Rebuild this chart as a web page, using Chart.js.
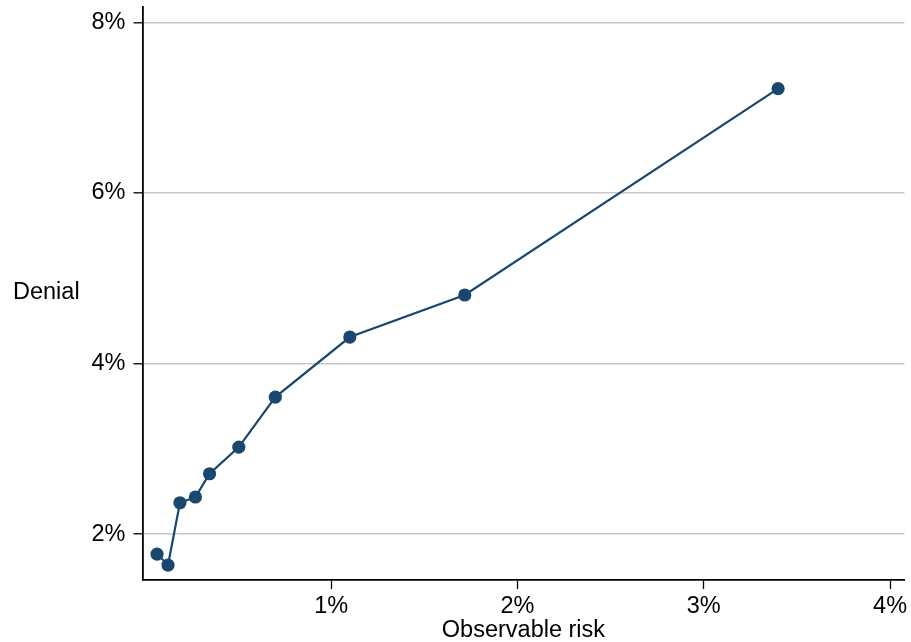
<!DOCTYPE html>
<html>
<head>
<meta charset="utf-8">
<script src="https://cdn.jsdelivr.net/npm/chart.js@4/dist/chart.umd.min.js"></script>
<style>
  html, body { margin: 0; padding: 0; background: #ffffff; }
  #wrap { width: 911px; height: 642px; }
</style>
</head>
<body>
<div id="wrap"><canvas id="c" width="911" height="642"></canvas></div>
<script>
// Observable risk (%) and denial rate (%) by bin
const observableRisk = [0.065, 0.124, 0.188, 0.271, 0.347, 0.504, 0.700, 1.100, 1.717, 3.399];
const denialRate     = [1.765, 1.636, 2.367, 2.434, 2.707, 3.020, 3.606, 4.310, 4.803, 7.222];
const xTicks = [1, 2, 3, 4];
const yTicks = [2, 4, 6, 8];
const xTitle = 'Observable risk';
const yTitle = 'Denial';

const NAVY = '#1a476f';
const FONT = "'Liberation Sans', Arial, Helvetica, sans-serif";
const FONT_SIZE = 23.5;

const points = observableRisk.map((x, i) => ({ x: x, y: denialRate[i] }));

// horizontal y-axis title, drawn left of the tick labels
const sideTitle = {
  id: 'sideTitle',
  afterDraw(chart) {
    const ctx = chart.ctx;
    const a = chart.chartArea;
    ctx.save();
    ctx.font = FONT_SIZE + 'px ' + FONT;
    ctx.fillStyle = '#000';
    ctx.textAlign = 'left';
    ctx.textBaseline = 'middle';
    ctx.fillText(yTitle, 13, (a.top + a.bottom) / 2 - 1);
    ctx.restore();
  }
};

new Chart(document.getElementById('c'), {
  type: 'scatter',
  data: {
    datasets: [{
      data: points,
      showLine: true,
      borderColor: NAVY,
      backgroundColor: NAVY,
      borderWidth: 2.2,
      pointRadius: 6.6,
      pointHoverRadius: 6.6,
      pointBorderWidth: 0,
      tension: 0
    }]
  },
  options: {
    responsive: false,
    animation: false,
    events: [],
    layout: { padding: { top: 7, right: 4, left: 0, bottom: 0 } },
    plugins: { legend: { display: false }, tooltip: { enabled: false } },
    scales: {
      x: {
        type: 'linear',
        min: -0.013,
        max: 4.077,
        afterBuildTicks(s) { s.ticks = xTicks.map(v => ({ value: v })); },
        afterFit(s) { s.height = 62; s.paddingLeft = 0; s.paddingRight = 0; },
        ticks: {
          callback: v => v + '%',
          color: '#000',
          font: { family: FONT, size: FONT_SIZE },
          padding: 3,
          maxRotation: 0
        },
        grid: { drawOnChartArea: false, tickColor: '#000', tickLength: 9, tickWidth: 1.3 },
        border: { color: '#000', width: 1.8 },
        title: {
          display: true,
          text: xTitle,
          color: '#000',
          font: { family: FONT, size: FONT_SIZE },
          padding: { top: 0, bottom: -3 }
        }
      },
      y: {
        type: 'linear',
        min: 1.461,
        max: 8.18,
        afterBuildTicks(s) { s.ticks = yTicks.map(v => ({ value: v })); },
        afterFit(s) { s.width = 142.5; s.paddingTop = 0; s.paddingBottom = 0; },
        ticks: {
          callback: v => v + '%',
          color: '#000',
          font: { family: FONT, size: FONT_SIZE },
          padding: 8
        },
        grid: { color: '#c8c8c8', lineWidth: 1.6, tickColor: '#000', tickLength: 9, tickWidth: 1.3 },
        border: { color: '#000', width: 1.8 }
      }
    }
  },
  plugins: [sideTitle]
});
</script>
</body>
</html>
